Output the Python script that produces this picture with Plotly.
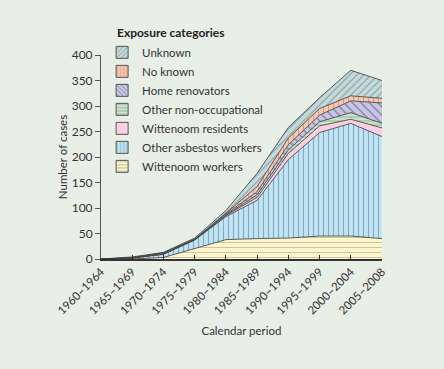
import plotly.graph_objects as go

periods = ["1960–1964", "1965–1969", "1970–1974", "1975–1979", "1980–1984",
           "1985–1989", "1990–1994", "1995–1999", "2000–2004", "2005–2008"]

wittenoom_workers = [0, 0, 3, 20, 38, 40, 41, 45, 45, 40]
other_asbestos_workers = [0, 2, 6, 17, 45, 75, 154, 203, 221, 200]
wittenoom_residents = [0, 0, 1, 1, 2, 6, 12, 13, 8, 17]
other_non_occupational = [0, 0, 0, 0, 1, 5, 7, 8, 13, 9]
home_renovators = [0, 0, 1, 1, 2, 6, 10, 13, 23, 40]
no_known = [0, 1, 1, 0, 2, 10, 13, 13, 10, 9]
unknown = [0, 1, 1, 2, 5, 26, 21, 21, 50, 35]

y_ticks = [0, 50, 100, 150, 200, 250, 300, 350, 400]

BG = "#e8efe6"

series = [
    ("Wittenoom workers", wittenoom_workers, "#fdf5cc", "#6f6a55", "-", 5, 0.14),
    ("Other asbestos workers", other_asbestos_workers, "#c1e5f5", "#4f6f80", "|", 5, 0.24),
    ("Wittenoom residents", wittenoom_residents, "#f9cfe2", None, "", 5, 0.2),
    ("Other non-occupational", other_non_occupational, "#cbe3cc", "#5f7f64", "-", 4, 0.22),
    ("Home renovators", home_renovators, "#c9c5e6", "#33334a", "\\", 6, 0.2),
    ("No known", no_known, "#f8c7ad", "#9a6e5c", "|", 5, 0.18),
    ("Unknown", unknown, "#c4d9da", "#3f4f52", "/", 5, 0.18),
]

fig = go.Figure()
for name, vals, bg, fg, shape, size, sol in series:
    if shape:
        fp = dict(shape=shape, bgcolor=bg, fgcolor=fg, size=size, solidity=sol)
    else:
        fp = dict(shape="", bgcolor=bg)
    fig.add_trace(go.Scatter(
        x=periods, y=vals, name=name, mode="lines",
        stackgroup="one",
        line=dict(color="#3a3a3a", width=0.8),
        fillcolor=bg,
        fillpattern=fp,
        hoverinfo="skip",
        showlegend=False,
    ))

# legend-only swatches (square patterned keys)
for name, vals, bg, fg, shape, size, sol in series:
    if shape:
        pat = dict(shape=shape, bgcolor=bg, fgcolor=fg, size=4, solidity=0.25)
    else:
        pat = dict(shape="")
    fig.add_trace(go.Bar(
        x=[None], y=[None], name=name,
        marker=dict(color=bg, pattern=pat, line=dict(color="#555555", width=1)),
        hoverinfo="skip",
        showlegend=True,
    ))

font_family = "Lato, 'Open Sans', sans-serif"

fig.update_layout(
    width=444, height=369,
    margin=dict(l=101, r=62, t=55, b=110),
    paper_bgcolor=BG,
    plot_bgcolor=BG,
    font=dict(family=font_family, size=12, color="#333333"),
    showlegend=True,
    legend=dict(
        x=0.004, y=1.084, xanchor="left", yanchor="top",
        traceorder="reversed",
        bgcolor="rgba(0,0,0,0)",
        font=dict(size=11.5, color="#333333"),
        itemwidth=30,
        tracegroupgap=0,
    ),
    annotations=[dict(
        text="<b>Exposure categories</b>", xref="paper", yref="paper",
        x=0.05, y=1.108, xanchor="left", yanchor="middle", showarrow=False,
        font=dict(size=12, color="#222222"),
    )],
    xaxis=dict(
        type="category",
        range=[0, len(periods) - 1],
        automargin=False,
        showgrid=False, zeroline=False,
        showline=True, linecolor="#333333", linewidth=1.5,
        ticks="inside", ticklen=4, tickcolor="#333333", tickwidth=1,
        tickangle=-45,
        tickfont=dict(size=11.5, color="#333333"),
        title=dict(text="Calendar period", font=dict(size=11.5, color="#333333"), standoff=11),
    ),
    yaxis=dict(
        range=[0, 400],
        automargin=False,
        tickvals=y_ticks,
        showgrid=False, zeroline=False,
        showline=True, linecolor="#555555", linewidth=1,
        ticks="outside", ticklen=5, tickcolor="#555555", tickwidth=1,
        tickfont=dict(size=12, color="#333333"),
        title=dict(text="Number of cases", font=dict(size=11.5, color="#333333"), standoff=1),
    ),
)

fig.write_html(
    "out.html",
    config={"displayModeBar": False},
    post_script="document.body.style.margin='0';document.body.style.background='" + BG + "';",
)
